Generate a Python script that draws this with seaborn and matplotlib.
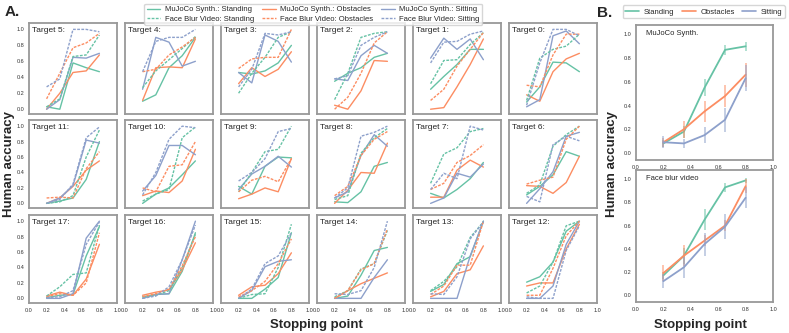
import matplotlib
matplotlib.use("Agg")
import matplotlib.pyplot as plt
import seaborn as sns
import numpy as np
from matplotlib.lines import Line2D

# stopping points
stops = [0.2, 0.35, 0.5, 0.65, 0.8]

# per-target accuracy, rows are target 0..17
ms_standing = [
    [0.09, 0.28, 0.59, 0.58, 0.47], [0.25, 0.41, 0.56, 0.75, 0.75],
    [0.35, 0.45, 0.52, 0.65, 0.70], [0.46, 0.44, 0.48, 0.58, 0.80],
    [0.10, 0.18, 0.52, 0.67, 0.90], [0.03, 0.00, 0.58, 0.52, 0.47],
    [0.11, 0.22, 0.37, 0.67, 0.61], [0.13, 0.07, 0.18, 0.32, 0.53],
    [0.02, 0.01, 0.15, 0.48, 0.53], [0.22, 0.12, 0.48, 0.60, 0.59],
    [0.00, 0.12, 0.20, 0.37, 0.55], [0.00, 0.03, 0.07, 0.31, 0.80],
    [0.21, 0.28, 0.47, 0.87, 1.00], [0.09, 0.18, 0.45, 0.54, 1.00],
    [0.00, 0.03, 0.30, 0.62, 0.66], [0.00, 0.00, 0.12, 0.27, 0.85],
    [0.02, 0.05, 0.06, 0.35, 0.85], [0.01, 0.04, 0.05, 0.55, 0.93]]
ms_obstacles = [
    [0.18, 0.10, 0.47, 0.63, 0.70], [0.00, 0.02, 0.28, 0.56, 0.88],
    [0.05, 0.00, 0.23, 0.61, 0.60], [0.32, 0.52, 0.41, 0.50, 0.72],
    [0.11, 0.52, 0.53, 0.52, 0.88], [0.00, 0.20, 0.46, 0.48, 0.68],
    [0.23, 0.22, 0.13, 0.27, 0.61], [0.08, 0.08, 0.43, 0.56, 0.47],
    [0.00, 0.17, 0.40, 0.39, 0.78], [0.06, 0.12, 0.20, 0.15, 0.58],
    [0.10, 0.16, 0.14, 0.29, 0.70], [0.00, 0.07, 0.22, 0.43, 0.55],
    [0.16, 0.20, 0.20, 0.64, 0.96], [0.02, 0.09, 0.32, 0.37, 0.68],
    [0.00, 0.10, 0.19, 0.26, 0.33], [0.04, 0.15, 0.17, 0.32, 0.59],
    [0.04, 0.08, 0.11, 0.37, 0.72], [0.03, 0.08, 0.04, 0.25, 0.70]]
ms_sitting = [
    [0.03, 0.12, 0.92, 0.98, 0.82], [0.64, 0.89, 0.75, 0.88, 0.62],
    [0.38, 0.36, 0.67, 0.80, 0.70], [0.46, 0.33, 0.93, 0.85, 0.59],
    [0.25, 0.90, 0.84, 0.54, 0.60], [0.00, 0.12, 0.65, 0.64, 0.70],
    [0.00, 0.19, 0.41, 0.87, 0.92], [0.00, 0.07, 0.39, 0.34, 0.51],
    [0.07, 0.15, 0.62, 0.89, 0.74], [0.18, 0.38, 0.48, 0.61, 0.47],
    [0.16, 0.36, 0.75, 0.75, 0.63], [0.00, 0.07, 0.23, 0.82, 0.78],
    [0.00, 0.00, 0.16, 0.70, 1.00], [0.00, 0.00, 0.00, 0.55, 1.00],
    [0.00, 0.00, 0.00, 0.27, 0.50], [0.00, 0.10, 0.41, 0.48, 0.50],
    [0.00, 0.05, 0.06, 0.50, 1.00], [0.00, 0.00, 0.06, 0.78, 1.00]]
fb_standing = [
    [0.11, 0.64, 0.75, 0.79, 0.94], [0.32, 0.61, 0.62, 0.81, 0.96],
    [0.12, 0.45, 0.90, 0.95, 0.97], [0.20, 0.45, 0.65, 0.90, 0.97],
    [0.27, 0.48, 0.62, 0.76, 0.91], [0.03, 0.13, 0.66, 0.68, 0.93],
    [0.13, 0.24, 0.74, 0.89, 1.00], [0.26, 0.64, 0.72, 0.93, 0.97],
    [0.05, 0.10, 0.65, 0.85, 0.97], [0.15, 0.40, 0.67, 0.70, 1.00],
    [0.03, 0.12, 0.18, 0.85, 0.99], [0.00, 0.02, 0.10, 0.60, 0.95],
    [0.07, 0.16, 0.47, 0.94, 1.00], [0.10, 0.22, 0.41, 0.79, 0.99],
    [0.02, 0.10, 0.38, 0.45, 0.88], [0.00, 0.05, 0.06, 0.40, 0.96],
    [0.01, 0.04, 0.10, 0.40, 0.83], [0.03, 0.15, 0.31, 0.33, 0.95]]
fb_obstacles = [
    [0.30, 0.28, 0.68, 0.94, 0.94], [0.11, 0.25, 0.54, 0.75, 0.96],
    [0.00, 0.15, 0.45, 0.83, 0.97], [0.51, 0.63, 0.65, 0.65, 1.00],
    [0.47, 0.50, 0.68, 0.78, 0.90], [0.13, 0.45, 0.77, 0.83, 0.95],
    [0.25, 0.30, 0.34, 0.83, 1.00], [0.18, 0.26, 0.53, 0.62, 0.76],
    [0.10, 0.22, 0.62, 0.83, 0.93], [0.15, 0.30, 0.35, 0.28, 0.58],
    [0.20, 0.15, 0.48, 0.50, 0.80], [0.07, 0.08, 0.07, 0.45, 0.67],
    [0.04, 0.04, 0.39, 0.81, 1.00], [0.05, 0.16, 0.43, 0.43, 1.00],
    [0.00, 0.10, 0.37, 0.45, 0.90], [0.02, 0.10, 0.22, 0.45, 0.77],
    [0.02, 0.06, 0.12, 0.42, 0.80], [0.02, 0.06, 0.04, 0.20, 0.85]]
fb_sitting = [
    [0.05, 0.58, 1.00, 1.00, 0.92], [0.58, 0.84, 0.85, 0.94, 0.98],
    [0.38, 0.42, 0.80, 0.90, 0.97], [0.28, 0.50, 0.95, 0.93, 0.97],
    [0.47, 0.85, 0.90, 0.90, 1.00], [0.28, 0.38, 1.00, 1.00, 0.97],
    [0.09, 0.02, 0.76, 0.87, 0.81], [0.18, 0.39, 0.32, 1.00, 0.95],
    [0.07, 0.20, 0.87, 0.92, 1.00], [0.29, 0.40, 0.58, 0.93, 0.97],
    [0.11, 0.40, 0.83, 1.00, 0.98], [0.00, 0.05, 0.25, 0.85, 0.99],
    [0.02, 0.00, 0.00, 0.62, 0.94], [0.06, 0.05, 0.28, 0.77, 0.99],
    [0.06, 0.05, 0.10, 0.40, 1.00], [0.00, 0.12, 0.45, 0.55, 0.85],
    [0.00, 0.03, 0.15, 0.50, 0.95], [0.01, 0.02, 0.10, 0.70, 0.99]]

# grid order of targets
grid_targets = [[5, 4, 3, 2, 1, 0], [11, 10, 9, 8, 7, 6], [17, 16, 15, 14, 13, 12]]

# panel B: mean and error
mj_mean = {"Standing": [0.08, 0.18, 0.55, 0.87, 0.90],
           "Obstacles": [0.09, 0.20, 0.35, 0.48, 0.66],
           "Sitting": [0.09, 0.08, 0.15, 0.28, 0.63]}
mj_err = {"Standing": [0.03, 0.05, 0.07, 0.04, 0.04],
          "Obstacles": [0.04, 0.07, 0.09, 0.09, 0.10],
          "Sitting": [0.05, 0.04, 0.07, 0.10, 0.11]}
fb_mean = {"Standing": [0.17, 0.34, 0.65, 0.93, 0.99],
           "Obstacles": [0.19, 0.34, 0.47, 0.60, 0.94],
           "Sitting": [0.12, 0.24, 0.44, 0.59, 0.84]}
fb_err = {"Standing": [0.03, 0.07, 0.09, 0.04, 0.02],
          "Obstacles": [0.07, 0.09, 0.05, 0.05, 0.06],
          "Sitting": [0.06, 0.09, 0.10, 0.11, 0.09]}

sns.set_style("white")
plt.rcParams['font.family'] = ['Liberation Sans', 'DejaVu Sans']

pal = sns.color_palette("Set2", 3)
colors = {"Standing": pal[0], "Obstacles": pal[1], "Sitting": pal[2]}
dash = (0, (2, 1))

series = [(ms_standing, "Standing", "-"), (ms_obstacles, "Obstacles", "-"),
          (ms_sitting, "Sitting", "-"), (fb_standing, "Standing", dash),
          (fb_obstacles, "Obstacles", dash), (fb_sitting, "Sitting", dash)]

fig = plt.figure(figsize=(7.89, 3.33), dpi=100)

W, H = 789.0, 333.0
row_px = [(23, 114), (120, 208), (215, 303)]


def style_ax(ax, xlab, ylab):
    ax.set_xlim(0, 1)
    ax.set_ylim(-0.06, 1.08)
    ax.set_xticks([0.0, 0.2, 0.4, 0.6, 0.8, 1.0])
    ax.set_yticks([0.0, 0.2, 0.4, 0.6, 0.8, 1.0])
    ax.tick_params(labelsize=4, length=2, width=0.5, pad=1.5, colors='0.2')
    if not xlab:
        ax.set_xticklabels([])
    if not ylab:
        ax.set_yticklabels([])
    for s in ax.spines.values():
        s.set_color('0.6')
        s.set_linewidth(1.3)
    ax.set_xlabel("")
    ax.set_ylabel("")


for r, row in enumerate(grid_targets):
    top, bot = row_px[r]
    for c, t in enumerate(row):
        left = 29 + 96 * c
        ax = fig.add_axes([left / W, 1 - bot / H, 88 / W, (bot - top) / H])
        for data, pose, ls in series:
            sns.lineplot(x=stops, y=data[t], ax=ax, color=colors[pose],
                         linestyle=ls, linewidth=1.0)
        style_ax(ax, r == 2, c == 0)
        ax.text(0.03, 0.96, f"Target {t}:", transform=ax.transAxes,
                ha='left', va='top', fontsize=6)

# panel B
b_axes = [(25, 160, mj_mean, mj_err, "MuJoCo Synth."),
          (170, 302, fb_mean, fb_err, "Face blur video")]
for top, bot, means, errs, name in b_axes:
    ax = fig.add_axes([636 / W, 1 - bot / H, 137 / W, (bot - top) / H])
    for pose in ["Standing", "Obstacles", "Sitting"]:
        m = np.array(means[pose])
        e = np.array(errs[pose])
        ax.vlines(stops, m - e, m + e, color=colors[pose], alpha=0.6, linewidth=1.2)
        sns.lineplot(x=stops, y=m, ax=ax, color=colors[pose], linewidth=1.3)
    style_ax(ax, True, True)
    ax.text(0.07, 0.96, name, transform=ax.transAxes, ha='left', va='top', fontsize=5.5)

# legends
hA, lA = [], []
for pose in ["Standing", "Obstacles", "Sitting"]:
    hA.append(Line2D([], [], color=colors[pose], linestyle="-", linewidth=1.0))
    lA.append(f"MuJoCo Synth.: {pose}")
    hA.append(Line2D([], [], color=colors[pose], linestyle=dash, linewidth=1.0))
    lA.append(f"Face Blur Video: {pose}")
fig.legend(hA, lA, ncol=3, loc='upper center', bbox_to_anchor=(0.397, 1.0),
           fontsize=5.5, frameon=True, handlelength=1.8, handletextpad=0.6,
           columnspacing=1.0, labelspacing=0.25, borderpad=0.3, edgecolor='0.8')

hB = [Line2D([], [], color=colors[p], linewidth=1.2) for p in ["Standing", "Obstacles", "Sitting"]]
fig.legend(hB, ["Standing", "Obstacles", "Sitting"], ncol=3, loc='upper center',
           bbox_to_anchor=(0.892, 0.995), fontsize=5.5, frameon=True, handlelength=1.8,
           handletextpad=0.6, columnspacing=1.0, borderpad=0.35, edgecolor='0.8')

# labels
fig.text(5 / W, 1 - 12 / H, "A.", fontsize=11, fontweight='bold', va='center')
fig.text(597 / W, 1 - 13 / H, "B.", fontsize=11, fontweight='bold', va='center')
fig.text(9 / W, 1 - 164 / H, "Human accuracy", rotation=90, fontsize=9.5,
         fontweight='bold', ha='center', va='center')
fig.text(612 / W, 1 - 164 / H, "Human accuracy", rotation=90, fontsize=9.5,
         fontweight='bold', ha='center', va='center')
fig.text(316 / W, 1 - 325 / H, "Stopping point", fontsize=9.5,
         fontweight='bold', ha='center', va='center')
fig.text(700 / W, 1 - 325 / H, "Stopping point", fontsize=9.5,
         fontweight='bold', ha='center', va='center')

fig.savefig("out.png", dpi=100)
